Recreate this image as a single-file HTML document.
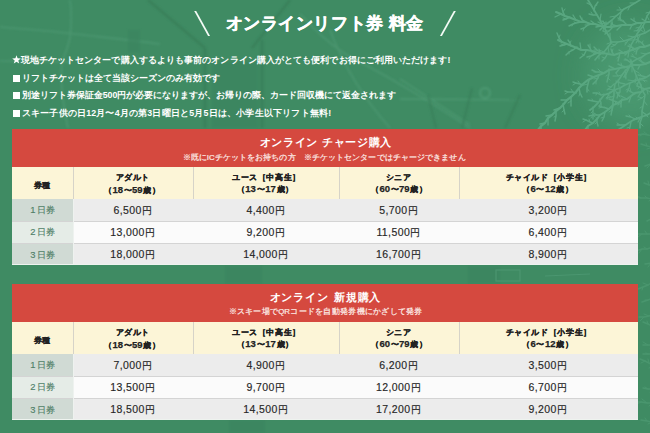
<!DOCTYPE html>
<html><head><meta charset="utf-8"><style>
*{margin:0;padding:0;box-sizing:border-box}
html,body{width:650px;height:433px;overflow:hidden}
body{background:#3f8b63;position:relative;font-family:"Liberation Sans",sans-serif;color:#fff}
div{position:absolute;white-space:nowrap}
.j{text-align:justify;text-align-last:justify;white-space:nowrap;overflow:visible;height:auto}
.bg{position:absolute;left:0;top:0}
.title{font-size:16.5px;font-weight:bold;line-height:22px;-webkit-text-stroke:0.45px #fff}
.sl{width:1.6px;height:24.5px;background:#f4fbf6;top:11px}
.bl{font-size:8.8px;line-height:11px;font-weight:bold}
.ic{display:inline-block;vertical-align:-1px}
.sq{display:inline-block;width:7.2px;height:6.5px;background:#fff;vertical-align:-0.5px;margin:0 1.5px 0 0.5px}
.red{left:12px;width:626px;height:38px;background:#d5493f}
.ttl{font-size:11px;font-weight:bold;line-height:14px}
.sub{font-size:7.9px;line-height:10px;color:#fdeee9;-webkit-text-stroke:0.2px #fdeee9}
.cream{left:12px;width:626px;height:32px;background:#fcf5d7}
.vl{width:1px;background:#d6d3c8}
.hl{left:12px;width:626px;height:1px;background:#d4d4d4}
.lv{left:73px;width:1px;height:66px;background:#eef2ef}
.bb{left:12px;width:626px;height:1.3px;background:#eef3ef}
.hd{font-size:8px;font-weight:bold;line-height:10px;color:#222;-webkit-text-stroke:0.25px #222}
.hd b{font-size:9.5px}
.lab{left:12px;width:61.5px;height:22.1px}
.lt{font-size:8.5px;line-height:11px;color:#4f7f67;letter-spacing:0.8px;-webkit-text-stroke:0.15px #4f7f67}
.lt b{font-weight:normal;font-size:9.4px}
.l1{background:#d0dad4}
.l2{background:#e5ece7}
.val{left:73.5px;width:564.5px;height:22.1px}
.v1{background:#ececec}
.v2{background:#fbfbfb}
.pr i{font-style:normal;font-size:9.6px;margin-left:0.3px}
.pr{text-align:center;font-size:10.5px;line-height:14px;color:#262626;letter-spacing:0.4px;-webkit-text-stroke:0.15px #262626}
</style></head><body>
<svg class="bg" width="650" height="433" viewBox="0 0 650 433"><defs><filter id="bf" x="-1" y="-1" width="3" height="3"><feGaussianBlur stdDeviation="14"/></filter><filter id="sf" x="-0.5" y="-0.5" width="2" height="2"><feGaussianBlur stdDeviation="0.8"/></filter></defs><ellipse cx="630" cy="75" rx="45" ry="50" fill="#4a9870" filter="url(#bf)"/><g fill="none" stroke="#4b9670" stroke-width="1.6" filter="url(#sf)"><path d="M0,27 C25,29 50,31 75,34 C110,38 130,40 160,44"/><path d="M70,0 C72,15 71,28 70,37 C68,48 64,56 62,62 C60,80 62,100 68,128"/><path d="M0,61 C25,61 50,62 70,62"/><path d="M300,14 C315,30 330,45 352,58 C380,72 420,95 470,128"/><path d="M330,30 C345,70 365,100 390,128"/></g><g fill="none" stroke="#377c57" stroke-width="2.5" opacity="0.7" filter="url(#sf)"><path d="M148,0 L205,48"/><path d="M290,0 L252,48"/><path d="M205,48 L205,128"/><path d="M262,40 L262,128"/></g><g fill="#3a845e" opacity="0.6" filter="url(#sf)"><rect x="212" y="62" width="46" height="66"/><rect x="128" y="30" width="12" height="22"/><rect x="225" y="266" width="37" height="18"/><rect x="468" y="266" width="32" height="18"/><rect x="229" y="420" width="36" height="13"/></g><g fill="none" stroke="#4d9972" stroke-width="1.3" filter="url(#sf)"><path d="M400,79 L470,125"/><path d="M400,99 L520,100"/><circle cx="485" cy="93" r="5" stroke-width="2"/></g><g fill="none" stroke="#387d58" stroke-width="2" opacity="0.7" filter="url(#sf)"><path d="M428,95 L436,128"/><path d="M472,88 L462,128"/><path d="M520,95 L505,128"/></g><g fill="none" stroke="#4b9670" stroke-width="1.2"><rect x="496" y="270" width="24" height="11"/><path d="M545,276 L590,274"/></g><g fill="none" stroke="#5caa84" stroke-linecap="round" opacity="0.9"><path d="M650,62L645,64L640,65L634,65L631,66L625,67L620,68L615,69L609,70L604,73L599,75L594,77L588,80L583,84L579,88L576,92L571,97L567,100L563,105L560,108L556,111L552,115L548,118L545,123L541,126L538,130" stroke-width="2.2"/><path d="M646,64L642,62L639,60" stroke-width="1.5"/><path d="M642,62L641,60" stroke-width="1.0"/><path d="M640,65L638,69" stroke-width="1.4"/><path d="M634,65L631,63L627,60L625,59" stroke-width="1.5"/><path d="M631,63L630,59" stroke-width="1.0"/><path d="M627,60L624,60" stroke-width="1.0"/><path d="M630,66L628,70L626,74L624,77" stroke-width="1.5"/><path d="M628,70L625,70" stroke-width="1.0"/><path d="M626,74L626,78" stroke-width="1.0"/><path d="M626,67L622,66L618,64" stroke-width="1.5"/><path d="M622,66L621,63" stroke-width="1.0"/><path d="M620,68L616,73" stroke-width="1.4"/><path d="M615,69L609,66" stroke-width="1.4"/><path d="M609,69L609,74L608,78L607,82" stroke-width="1.5"/><path d="M609,74L606,76" stroke-width="1.0"/><path d="M608,78L610,80" stroke-width="1.0"/><path d="M604,73L601,72L596,72L592,70" stroke-width="1.5"/><path d="M601,72L598,69" stroke-width="1.0"/><path d="M596,72L594,72" stroke-width="1.0"/><path d="M599,75L598,78L596,81L593,84" stroke-width="1.5"/><path d="M598,78L594,79" stroke-width="1.0"/><path d="M596,81L596,84" stroke-width="1.0"/><path d="M594,77L588,75" stroke-width="1.4"/><path d="M589,80L588,84L587,88L587,92" stroke-width="1.5"/><path d="M588,84L584,85" stroke-width="1.0"/><path d="M587,88L589,91" stroke-width="1.0"/><path d="M583,85L580,84L576,83L573,82" stroke-width="1.5"/><path d="M580,84L578,81" stroke-width="1.0"/><path d="M576,83L573,85" stroke-width="1.0"/><path d="M579,88L580,93L582,97" stroke-width="1.5"/><path d="M580,93L579,96" stroke-width="1.0"/><path d="M576,93L573,92L568,92L565,91" stroke-width="1.5"/><path d="M573,92L571,89" stroke-width="1.0"/><path d="M568,92L565,94" stroke-width="1.0"/><path d="M571,97L571,101L571,106" stroke-width="1.5"/><path d="M571,101L568,103" stroke-width="1.0"/><path d="M567,100L561,100" stroke-width="1.4"/><path d="M563,104L564,110L565,114" stroke-width="1.5"/><path d="M564,110L562,112" stroke-width="1.0"/><path d="M560,108L554,110" stroke-width="1.4"/><path d="M556,111L556,116L555,121" stroke-width="1.5"/><path d="M556,116L554,117" stroke-width="1.0"/><path d="M552,115L546,116" stroke-width="1.4"/><path d="M548,118L548,125" stroke-width="1.4"/><path d="M545,123L540,124" stroke-width="1.4"/><path d="M541,127L541,131L541,135" stroke-width="1.5"/><path d="M541,131L540,134" stroke-width="1.0"/><path d="M650,45L644,47L640,47L635,49L629,51L624,53L620,53L614,55L608,54L603,53L598,53L592,51L587,50L581,50L577,48L572,46L567,44L562,42L558,40" stroke-width="2.0"/><path d="M645,47L642,43L639,41" stroke-width="1.4"/><path d="M642,43L643,41" stroke-width="1.0"/><path d="M640,47L637,50L636,54" stroke-width="1.4"/><path d="M637,50L634,52" stroke-width="1.0"/><path d="M635,49L631,47L628,46" stroke-width="1.4"/><path d="M631,47L629,44" stroke-width="1.0"/><path d="M629,51L628,57" stroke-width="1.3"/><path d="M624,53L619,50" stroke-width="1.3"/><path d="M620,53L619,57L618,61" stroke-width="1.4"/><path d="M619,57L617,58" stroke-width="1.0"/><path d="M614,55L612,52L611,49" stroke-width="1.4"/><path d="M612,52L613,49" stroke-width="1.0"/><path d="M608,53L605,58L602,61" stroke-width="1.4"/><path d="M605,58L602,57" stroke-width="1.0"/><path d="M603,54L600,52L597,50L594,47" stroke-width="1.4"/><path d="M600,52L599,49" stroke-width="1.0"/><path d="M597,50L594,50" stroke-width="1.0"/><path d="M598,53L595,54L591,56L587,57" stroke-width="1.4"/><path d="M595,54L593,53" stroke-width="1.0"/><path d="M591,56L589,59" stroke-width="1.0"/><path d="M592,52L590,48L588,45" stroke-width="1.4"/><path d="M590,48L590,44" stroke-width="1.0"/><path d="M586,51L584,55L580,58" stroke-width="1.4"/><path d="M584,55L582,54" stroke-width="1.0"/><path d="M581,50L580,43" stroke-width="1.3"/><path d="M577,47L573,50L569,52L566,55" stroke-width="1.4"/><path d="M573,50L571,50" stroke-width="1.0"/><path d="M569,52L569,54" stroke-width="1.0"/><path d="M571,46L570,43L568,40" stroke-width="1.4"/><path d="M570,43L571,41" stroke-width="1.0"/><path d="M567,44L564,45L560,46" stroke-width="1.4"/><path d="M564,45L561,44" stroke-width="1.0"/><path d="M562,42L559,38L557,33" stroke-width="1.4"/><path d="M559,38L560,35" stroke-width="1.0"/><path d="M652,22L647,22L642,23L637,23L632,25L627,25L622,25L617,26L612,27L606,27L601,26L595,24L591,24L585,22L581,22L576,20L571,18L565,16L561,14L556,12" stroke-width="2.0"/><path d="M647,22L642,19" stroke-width="1.3"/><path d="M642,23L640,27L637,31" stroke-width="1.4"/><path d="M640,27L636,28" stroke-width="1.0"/><path d="M637,23L634,21L631,19" stroke-width="1.4"/><path d="M634,21L634,18" stroke-width="1.0"/><path d="M632,25L630,29" stroke-width="1.3"/><path d="M627,25L624,22L621,20L618,18" stroke-width="1.4"/><path d="M624,22L623,20" stroke-width="1.0"/><path d="M621,20L618,20" stroke-width="1.0"/><path d="M622,25L617,30" stroke-width="1.3"/><path d="M617,26L613,25L611,23" stroke-width="1.4"/><path d="M613,25L612,22" stroke-width="1.0"/><path d="M612,28L609,31L605,34" stroke-width="1.4"/><path d="M609,31L605,31" stroke-width="1.0"/><path d="M606,27L603,21" stroke-width="1.3"/><path d="M601,26L596,27" stroke-width="1.3"/><path d="M595,24L591,21" stroke-width="1.3"/><path d="M591,24L588,25L584,28L581,29" stroke-width="1.4"/><path d="M588,25L585,25" stroke-width="1.0"/><path d="M584,28L583,31" stroke-width="1.0"/><path d="M586,22L582,20L580,16" stroke-width="1.4"/><path d="M582,20L582,18" stroke-width="1.0"/><path d="M581,22L576,23L573,24L569,26" stroke-width="1.4"/><path d="M576,23L574,22" stroke-width="1.0"/><path d="M573,24L572,26" stroke-width="1.0"/><path d="M576,20L573,15" stroke-width="1.3"/><path d="M570,17L566,19L563,20" stroke-width="1.4"/><path d="M566,19L563,18" stroke-width="1.0"/><path d="M565,16L563,12L562,8" stroke-width="1.4"/><path d="M563,12L565,9" stroke-width="1.0"/><path d="M561,14L555,17" stroke-width="1.3"/><path d="M611,42L610,38L607,33L605,29L602,24L600,20L597,15L594,10L591,5L588,0" stroke-width="1.8"/><path d="M610,38L610,33" stroke-width="1.2"/><path d="M607,33L603,31" stroke-width="1.2"/><path d="M605,29L606,25L606,22" stroke-width="1.3"/><path d="M606,25L608,23" stroke-width="1.0"/><path d="M602,24L598,22" stroke-width="1.2"/><path d="M600,20L601,14" stroke-width="1.2"/><path d="M597,15L593,15L589,14" stroke-width="1.3"/><path d="M593,15L591,12" stroke-width="1.0"/><path d="M594,11L595,6L598,2" stroke-width="1.3"/><path d="M595,6L597,5" stroke-width="1.0"/><path d="M591,5L587,3" stroke-width="1.2"/><path d="M650,88L645,89L641,92L635,93L631,96L627,99L622,100L618,103L613,105L609,109L605,112L600,115L597,119L593,123L588,126L585,130" stroke-width="2.0"/><path d="M645,89L642,88L637,86" stroke-width="1.4"/><path d="M642,88L640,85" stroke-width="1.0"/><path d="M641,92L638,97" stroke-width="1.3"/><path d="M635,94L631,92L628,90" stroke-width="1.4"/><path d="M631,92L630,88" stroke-width="1.0"/><path d="M631,96L629,102" stroke-width="1.3"/><path d="M627,99L621,96" stroke-width="1.3"/><path d="M622,99L621,103L621,107" stroke-width="1.4"/><path d="M621,103L618,105" stroke-width="1.0"/><path d="M617,102L614,101L609,99" stroke-width="1.4"/><path d="M614,101L612,99" stroke-width="1.0"/><path d="M613,105L612,110L611,115" stroke-width="1.4"/><path d="M612,110L609,112" stroke-width="1.0"/><path d="M609,109L606,108L602,107L599,106" stroke-width="1.4"/><path d="M606,108L605,107" stroke-width="1.0"/><path d="M602,107L599,108" stroke-width="1.0"/><path d="M605,112L604,117L602,121" stroke-width="1.4"/><path d="M604,117L601,118" stroke-width="1.0"/><path d="M600,115L597,115L593,115L589,116" stroke-width="1.4"/><path d="M597,115L594,113" stroke-width="1.0"/><path d="M593,115L591,118" stroke-width="1.0"/><path d="M597,118L597,122L598,126" stroke-width="1.4"/><path d="M597,122L595,124" stroke-width="1.0"/><path d="M593,123L590,122L586,120L583,119" stroke-width="1.4"/><path d="M590,122L589,119" stroke-width="1.0"/><path d="M586,120L583,122" stroke-width="1.0"/><path d="M588,126L588,131" stroke-width="1.3"/><path d="M652,112L647,115L641,117L635,119L630,122L624,126L618,130" stroke-width="1.8"/><path d="M647,115L642,112" stroke-width="1.2"/><path d="M641,117L638,122" stroke-width="1.2"/><path d="M635,119L631,117L626,116" stroke-width="1.3"/><path d="M631,117L629,115" stroke-width="1.0"/><path d="M631,122L630,127L629,131" stroke-width="1.3"/><path d="M630,127L627,128" stroke-width="1.0"/><path d="M625,125L620,125L617,125" stroke-width="1.3"/><path d="M620,125L617,123" stroke-width="1.0"/><path d="M640,-0L635,3L630,6L624,9L620,13L616,16L612,20L608,23L604,26L600,30" stroke-width="1.6"/><path d="M635,3L630,3" stroke-width="1.0"/><path d="M630,6L628,10" stroke-width="1.0"/><path d="M624,9L621,10L617,10" stroke-width="1.1"/><path d="M621,10L619,7" stroke-width="1.0"/><path d="M621,13L620,16L621,21" stroke-width="1.1"/><path d="M620,16L619,19" stroke-width="1.0"/><path d="M616,16L610,17" stroke-width="1.0"/><path d="M612,20L612,23L611,27" stroke-width="1.1"/><path d="M612,23L610,26" stroke-width="1.0"/><path d="M608,24L605,23L600,24" stroke-width="1.1"/><path d="M605,23L602,21" stroke-width="1.0"/><path d="M604,26L603,31" stroke-width="1.0"/><path d="M650,75L645,78L640,79L635,81L630,83L625,85L620,88L614,90L610,93L604,95L601,99L598,103L594,107L590,110" stroke-width="1.8"/><path d="M646,77L642,76L638,75" stroke-width="1.3"/><path d="M642,76L640,74" stroke-width="1.0"/><path d="M640,78L638,83L637,86" stroke-width="1.3"/><path d="M638,83L636,84" stroke-width="1.0"/><path d="M635,81L628,80" stroke-width="1.2"/><path d="M630,83L629,88L627,92" stroke-width="1.3"/><path d="M629,88L626,90" stroke-width="1.0"/><path d="M625,84L620,83L616,81" stroke-width="1.3"/><path d="M620,83L618,80" stroke-width="1.0"/><path d="M620,88L620,92L618,95L617,98" stroke-width="1.3"/><path d="M620,92L616,93" stroke-width="1.0"/><path d="M618,95L620,97" stroke-width="1.0"/><path d="M614,90L608,89" stroke-width="1.2"/><path d="M610,92L608,96L607,99" stroke-width="1.3"/><path d="M608,96L606,98" stroke-width="1.0"/><path d="M604,94L601,95L597,93L593,93" stroke-width="1.3"/><path d="M601,95L599,92" stroke-width="1.0"/><path d="M597,93L596,95" stroke-width="1.0"/><path d="M600,99L601,103L601,107" stroke-width="1.3"/><path d="M601,103L599,106" stroke-width="1.0"/><path d="M598,102L593,101L588,100" stroke-width="1.3"/><path d="M593,101L592,99" stroke-width="1.0"/><path d="M593,107L593,111L593,114L593,119" stroke-width="1.3"/><path d="M593,111L591,113" stroke-width="1.0"/><path d="M593,114L595,117" stroke-width="1.0"/><path d="M650,30L645,33L639,35L634,37L630,39L624,41L618,42L612,42L608,47L604,52L599,55L595,60" stroke-width="1.6"/><path d="M645,33L641,30" stroke-width="1.0"/><path d="M640,35L638,39L636,43" stroke-width="1.1"/><path d="M638,39L635,40" stroke-width="1.0"/><path d="M634,37L628,36" stroke-width="1.0"/><path d="M629,39L627,42L625,45" stroke-width="1.1"/><path d="M627,42L625,43" stroke-width="1.0"/><path d="M624,41L620,37" stroke-width="1.0"/><path d="M618,42L615,45L611,47" stroke-width="1.1"/><path d="M615,45L612,44" stroke-width="1.0"/><path d="M612,42L607,44" stroke-width="1.0"/><path d="M608,47L609,53" stroke-width="1.0"/><path d="M604,52L599,50" stroke-width="1.0"/><path d="M599,55L599,59" stroke-width="1.0"/><path d="M652,52L646,54L642,57L637,59L632,62L629,67L625,71L622,75L618,81L615,84L614,90L614,95L613,100L613,105L612,110" stroke-width="1.6"/><path d="M646,54L641,53" stroke-width="1.0"/><path d="M642,57L640,60" stroke-width="1.0"/><path d="M638,59L634,57L631,56" stroke-width="1.1"/><path d="M634,57L632,54" stroke-width="1.0"/><path d="M632,62L632,66" stroke-width="1.0"/><path d="M629,67L624,68" stroke-width="1.0"/><path d="M626,70L625,75L626,79" stroke-width="1.1"/><path d="M625,75L624,77" stroke-width="1.0"/><path d="M622,75L618,76L613,76" stroke-width="1.1"/><path d="M618,76L616,73" stroke-width="1.0"/><path d="M618,81L619,87" stroke-width="1.0"/><path d="M614,84L611,87L607,90" stroke-width="1.1"/><path d="M611,87L608,86" stroke-width="1.0"/><path d="M615,90L617,93L620,96" stroke-width="1.1"/><path d="M617,93L618,96" stroke-width="1.0"/><path d="M614,96L611,97L607,98" stroke-width="1.1"/><path d="M611,97L608,95" stroke-width="1.0"/><path d="M613,100L617,104" stroke-width="1.0"/><path d="M613,105L610,108" stroke-width="1.0"/><path d="M652,8L650,12L647,16L645,22L643,26L640,30L637,34L634,40L631,45L629,51L625,55" stroke-width="1.5"/><path d="M650,12L646,13" stroke-width="1.0"/><path d="M647,16L649,20" stroke-width="1.0"/><path d="M645,22L641,23" stroke-width="1.0"/><path d="M643,26L645,32" stroke-width="1.0"/><path d="M640,30L634,31" stroke-width="1.0"/><path d="M637,34L638,39L639,43" stroke-width="1.0"/><path d="M638,39L637,42" stroke-width="1.0"/><path d="M634,40L628,40" stroke-width="1.0"/><path d="M631,45L634,51" stroke-width="1.0"/><path d="M629,51L624,52" stroke-width="1.0"/><path d="M631,60L632,66L634,70L636,75L638,80L641,85L642,90L645,95L644,101L643,106L642,111L642,117L640,123L640,128" stroke-width="1.5"/><path d="M632,66L632,72" stroke-width="1.0"/><path d="M634,70L639,73" stroke-width="1.0"/><path d="M636,76L636,79L635,83" stroke-width="1.0"/><path d="M636,79L633,81" stroke-width="1.0"/><path d="M638,80L643,80L647,81" stroke-width="1.0"/><path d="M643,80L645,82" stroke-width="1.0"/><path d="M641,85L638,89" stroke-width="1.0"/><path d="M643,89L647,90L650,92" stroke-width="1.0"/><path d="M647,90L648,94" stroke-width="1.0"/><path d="M645,95L642,98L638,100" stroke-width="1.0"/><path d="M642,98L639,97" stroke-width="1.0"/><path d="M644,101L647,105" stroke-width="1.0"/><path d="M643,106L640,108" stroke-width="1.0"/><path d="M642,111L645,114L648,117" stroke-width="1.0"/><path d="M645,114L646,116" stroke-width="1.0"/><path d="M641,118L638,119L634,120" stroke-width="1.0"/><path d="M638,119L636,117" stroke-width="1.0"/><path d="M640,123L643,126" stroke-width="1.0"/></g><g fill="none" stroke="#53a078" stroke-linecap="round" opacity="0.55"><path d="M664,136L658,136L653,136L648,135L643,134L637,135" stroke-width="1.4"/><path d="M658,136L654,133" stroke-width="1.0"/><path d="M653,136L651,137" stroke-width="1.0"/><path d="M648,135L644,132" stroke-width="1.0"/><path d="M643,134L640,136" stroke-width="1.0"/><path d="M664,150L659,149L653,147L647,146L641,144" stroke-width="1.4"/><path d="M659,149L657,145" stroke-width="1.0"/><path d="M653,147L647,149" stroke-width="1.0"/><path d="M647,146L646,143" stroke-width="1.0"/><path d="M664,162L657,163L651,164L645,166" stroke-width="1.4"/><path d="M657,163L655,161" stroke-width="1.0"/><path d="M651,164L647,168" stroke-width="1.0"/><path d="M664,187L659,185L654,185L649,185L644,183" stroke-width="1.4"/><path d="M659,185L655,182" stroke-width="1.0"/><path d="M654,185L650,189" stroke-width="1.0"/><path d="M649,185L648,181" stroke-width="1.0"/><path d="M664,201L658,200L652,199L647,198L641,198L636,196" stroke-width="1.4"/><path d="M658,200L656,198" stroke-width="1.0"/><path d="M652,199L649,201" stroke-width="1.0"/><path d="M647,198L645,196" stroke-width="1.0"/><path d="M641,198L639,198" stroke-width="1.0"/><path d="M664,215L659,216L653,218L647,221" stroke-width="1.4"/><path d="M659,216L657,216" stroke-width="1.0"/><path d="M653,218L651,222" stroke-width="1.0"/><path d="M664,234L659,234L653,234L647,234L642,234L636,234" stroke-width="1.4"/><path d="M659,234L657,232" stroke-width="1.0"/><path d="M653,234L651,236" stroke-width="1.0"/><path d="M647,234L645,231" stroke-width="1.0"/><path d="M642,234L638,237" stroke-width="1.0"/><path d="M664,246L659,247L653,247L647,249L642,249L636,251" stroke-width="1.4"/><path d="M659,247L655,244" stroke-width="1.0"/><path d="M653,247L652,250" stroke-width="1.0"/><path d="M647,249L644,247" stroke-width="1.0"/><path d="M642,249L639,253" stroke-width="1.0"/><path d="M664,261L658,261L651,263L645,264" stroke-width="1.4"/><path d="M658,261L654,261" stroke-width="1.0"/><path d="M651,263L648,267" stroke-width="1.0"/><path d="M664,279L659,281L653,282L648,285L643,287L638,289" stroke-width="1.4"/><path d="M659,281L655,279" stroke-width="1.0"/><path d="M653,282L652,287" stroke-width="1.0"/><path d="M648,285L643,283" stroke-width="1.0"/><path d="M643,287L642,290" stroke-width="1.0"/><path d="M664,294L658,296L653,298L648,300L642,302" stroke-width="1.4"/><path d="M658,296L656,296" stroke-width="1.0"/><path d="M653,298L652,303" stroke-width="1.0"/><path d="M648,300L645,300" stroke-width="1.0"/><path d="M663,312L659,313L654,314L649,316L644,317L639,317" stroke-width="1.4"/><path d="M659,313L655,312" stroke-width="1.0"/><path d="M654,314L651,318" stroke-width="1.0"/><path d="M649,316L644,314" stroke-width="1.0"/><path d="M644,317L640,321" stroke-width="1.0"/><path d="M664,332L658,329L654,327L648,324L643,322" stroke-width="1.4"/><path d="M658,329L656,324" stroke-width="1.0"/><path d="M654,327L651,328" stroke-width="1.0"/><path d="M648,324L647,321" stroke-width="1.0"/><path d="M663,345L659,344L653,345L648,345L643,345" stroke-width="1.4"/><path d="M659,344L657,342" stroke-width="1.0"/><path d="M653,345L650,348" stroke-width="1.0"/><path d="M648,345L643,342" stroke-width="1.0"/><path d="M664,354L658,355L654,354L648,354L643,354" stroke-width="1.4"/><path d="M658,355L656,353" stroke-width="1.0"/><path d="M654,354L652,357" stroke-width="1.0"/><path d="M648,354L646,353" stroke-width="1.0"/><path d="M665,372L660,368L654,366L649,363L645,361L640,359" stroke-width="1.4"/><path d="M660,368L658,366" stroke-width="1.0"/><path d="M654,366L649,368" stroke-width="1.0"/><path d="M649,363L648,359" stroke-width="1.0"/><path d="M645,361L641,363" stroke-width="1.0"/><path d="M663,390L659,389L653,389L648,389L643,388" stroke-width="1.4"/><path d="M659,389L655,385" stroke-width="1.0"/><path d="M653,389L650,392" stroke-width="1.0"/><path d="M648,389L645,387" stroke-width="1.0"/><path d="M664,405L658,404L653,403L647,403L641,402L636,402" stroke-width="1.4"/><path d="M658,404L655,400" stroke-width="1.0"/><path d="M653,403L649,406" stroke-width="1.0"/><path d="M647,403L642,399" stroke-width="1.0"/><path d="M641,402L637,404" stroke-width="1.0"/><path d="M664,425L658,423L652,422L647,421L641,420" stroke-width="1.4"/><path d="M658,423L657,420" stroke-width="1.0"/><path d="M652,422L648,424" stroke-width="1.0"/><path d="M647,421L645,418" stroke-width="1.0"/></g></svg>
<div class="sl" style="left:201px;transform:skewX(29deg)"></div>
<div class="sl" style="left:447px;transform:skewX(-29deg)"></div>
<div class="j title" style="left:225.50px;top:11.60px;width:198.00px">オンラインリフト券 料金</div>
<div class="j bl" style="left:11.50px;top:54.55px;width:439.00px"><svg class="ic" width="9" height="9" viewBox="0 0 10 10"><polygon points="5,0.3 6.2,3.7 9.8,3.8 7,6 8,9.5 5,7.5 2,9.5 3,6 0.2,3.8 3.8,3.7" fill="#fff"/></svg>現地チケットセンターで購入するよりも事前のオンライン購入がとても便利でお得にご利用いただけます!</div>
<div class="j bl" style="left:12.50px;top:73.05px;width:207.40px"><i class="sq"></i>リフトチケットは全て当該シーズンのみ有効です</div>
<div class="j bl" style="left:12.50px;top:90.05px;width:327.00px"><i class="sq"></i>別途リフト券保証金500円が必要になりますが、お帰りの際、カード回収機にて返金されます</div>
<div class="j bl" style="left:12.50px;top:108.40px;width:318.60px"><i class="sq"></i>スキー子供の日12月〜4月の第3日曜日と5月5日は、小学生以下リフト無料!</div>
<div class="red" style="top:129px"></div>
<div class="j ttl" style="left:259.50px;top:135.40px;width:132.00px">オンライン チャージ購入</div>
<div class="j sub" style="left:182.50px;top:153.10px;width:283.00px">※既にICチケットをお持ちの方　※チケットセンターではチャージできません</div>
<div class="cream" style="top:167px"></div>
<div class="vl" style="left:73.0px;top:167px;height:98px"></div>
<div class="vl" style="left:193.0px;top:167px;height:98px"></div>
<div class="vl" style="left:339.0px;top:167px;height:98px"></div>
<div class="vl" style="left:458.5px;top:167px;height:98px"></div>
<div class="j hd" style="left:34.10px;top:180.60px;width:16.40px">券種</div>
<div class="j hd" style="left:115.70px;top:173.15px;width:33.80px">アダルト</div>
<div class="j hd" style="left:103.90px;top:185.05px;width:55.80px">（<b>18</b>〜<b>59</b>歳）</div>
<div class="j hd" style="left:231.90px;top:172.60px;width:68.40px">ユース［中高生］</div>
<div class="j hd" style="left:236.50px;top:184.35px;width:56.80px">（<b>13</b>〜<b>17</b>歳）</div>
<div class="j hd" style="left:385.50px;top:172.70px;width:25.80px">シニア</div>
<div class="j hd" style="left:370.90px;top:184.20px;width:55.80px">（<b>60</b>〜<b>79</b>歳）</div>
<div class="j hd" style="left:505.50px;top:173.15px;width:85.80px">チャイルド［小学生］</div>
<div class="j hd" style="left:521.90px;top:184.30px;width:50.80px">（<b>6</b>〜<b>12</b>歳）</div>
<div class="lab l1" style="top:199.00px"></div>
<div class="j lt" style="left:30.30px;top:204.30px;width:26.00px"><b>1</b>日券</div>
<div class="val v1" style="top:199.00px"></div>
<div class="pr" style="left:72.9px;width:120.0px;top:202.60px">6,500<i>円</i></div>
<div class="pr" style="left:192.9px;width:146.0px;top:202.60px">4,400<i>円</i></div>
<div class="pr" style="left:338.9px;width:119.5px;top:202.60px">5,700<i>円</i></div>
<div class="pr" style="left:458.4px;width:179px;top:202.60px">3,200<i>円</i></div>
<div class="lab l2" style="top:221.10px"></div>
<div class="j lt" style="left:30.30px;top:226.40px;width:26.00px"><b>2</b>日券</div>
<div class="val v2" style="top:221.10px"></div>
<div class="pr" style="left:72.9px;width:120.0px;top:224.70px">13,000<i>円</i></div>
<div class="pr" style="left:192.9px;width:146.0px;top:224.70px">9,200<i>円</i></div>
<div class="pr" style="left:338.9px;width:119.5px;top:224.70px">11,500<i>円</i></div>
<div class="pr" style="left:458.4px;width:179px;top:224.70px">6,400<i>円</i></div>
<div class="hl" style="top:220.50px"></div>
<div class="lab l1" style="top:243.20px"></div>
<div class="j lt" style="left:30.30px;top:248.50px;width:26.00px"><b>3</b>日券</div>
<div class="val v1" style="top:243.20px"></div>
<div class="pr" style="left:72.9px;width:120.0px;top:246.80px">18,000<i>円</i></div>
<div class="pr" style="left:192.9px;width:146.0px;top:246.80px">14,000<i>円</i></div>
<div class="pr" style="left:338.9px;width:119.5px;top:246.80px">16,700<i>円</i></div>
<div class="pr" style="left:458.4px;width:179px;top:246.80px">8,900<i>円</i></div>
<div class="hl" style="top:242.60px"></div>
<div class="lv" style="top:199px"></div>
<div class="bb" style="top:264.00px"></div>
<div class="red" style="top:284px"></div>
<div class="j ttl" style="left:269.50px;top:290.40px;width:111.00px">オンライン 新規購入</div>
<div class="j sub" style="left:228.50px;top:307.05px;width:194.00px">※スキー場でQRコードを自動発券機にかざして発券</div>
<div class="cream" style="top:322px"></div>
<div class="vl" style="left:73.0px;top:322px;height:98px"></div>
<div class="vl" style="left:193.0px;top:322px;height:98px"></div>
<div class="vl" style="left:339.0px;top:322px;height:98px"></div>
<div class="vl" style="left:458.5px;top:322px;height:98px"></div>
<div class="j hd" style="left:34.10px;top:335.60px;width:16.40px">券種</div>
<div class="j hd" style="left:115.70px;top:328.15px;width:33.80px">アダルト</div>
<div class="j hd" style="left:103.90px;top:340.05px;width:55.80px">（<b>18</b>〜<b>59</b>歳）</div>
<div class="j hd" style="left:231.90px;top:327.60px;width:68.40px">ユース［中高生］</div>
<div class="j hd" style="left:236.50px;top:339.35px;width:56.80px">（<b>13</b>〜<b>17</b>歳）</div>
<div class="j hd" style="left:385.50px;top:327.70px;width:25.80px">シニア</div>
<div class="j hd" style="left:370.90px;top:339.20px;width:55.80px">（<b>60</b>〜<b>79</b>歳）</div>
<div class="j hd" style="left:505.50px;top:328.15px;width:85.80px">チャイルド［小学生］</div>
<div class="j hd" style="left:521.90px;top:339.30px;width:50.80px">（<b>6</b>〜<b>12</b>歳）</div>
<div class="lab l1" style="top:354.00px"></div>
<div class="j lt" style="left:30.30px;top:359.30px;width:26.00px"><b>1</b>日券</div>
<div class="val v1" style="top:354.00px"></div>
<div class="pr" style="left:72.9px;width:120.0px;top:357.60px">7,000<i>円</i></div>
<div class="pr" style="left:192.9px;width:146.0px;top:357.60px">4,900<i>円</i></div>
<div class="pr" style="left:338.9px;width:119.5px;top:357.60px">6,200<i>円</i></div>
<div class="pr" style="left:458.4px;width:179px;top:357.60px">3,500<i>円</i></div>
<div class="lab l2" style="top:376.10px"></div>
<div class="j lt" style="left:30.30px;top:381.40px;width:26.00px"><b>2</b>日券</div>
<div class="val v2" style="top:376.10px"></div>
<div class="pr" style="left:72.9px;width:120.0px;top:379.70px">13,500<i>円</i></div>
<div class="pr" style="left:192.9px;width:146.0px;top:379.70px">9,700<i>円</i></div>
<div class="pr" style="left:338.9px;width:119.5px;top:379.70px">12,000<i>円</i></div>
<div class="pr" style="left:458.4px;width:179px;top:379.70px">6,700<i>円</i></div>
<div class="hl" style="top:375.50px"></div>
<div class="lab l1" style="top:398.20px"></div>
<div class="j lt" style="left:30.30px;top:403.50px;width:26.00px"><b>3</b>日券</div>
<div class="val v1" style="top:398.20px"></div>
<div class="pr" style="left:72.9px;width:120.0px;top:401.80px">18,500<i>円</i></div>
<div class="pr" style="left:192.9px;width:146.0px;top:401.80px">14,500<i>円</i></div>
<div class="pr" style="left:338.9px;width:119.5px;top:401.80px">17,200<i>円</i></div>
<div class="pr" style="left:458.4px;width:179px;top:401.80px">9,200<i>円</i></div>
<div class="hl" style="top:397.60px"></div>
<div class="lv" style="top:354px"></div>
<div class="bb" style="top:419.00px"></div>
</body></html>
